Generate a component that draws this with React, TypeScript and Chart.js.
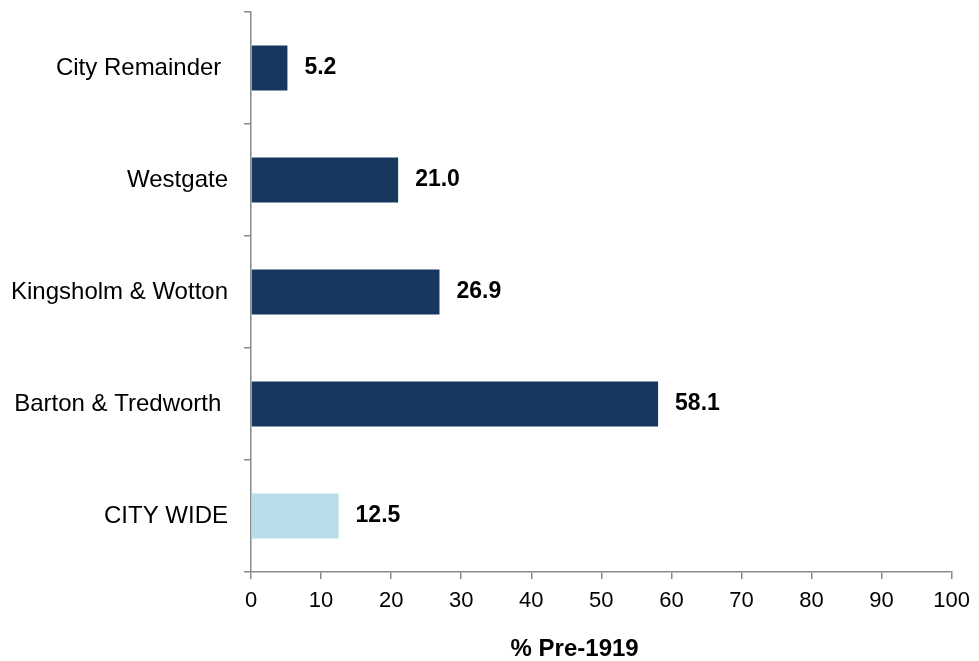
import React, { useEffect, useRef } from "react";
import { Chart, registerables } from "chart.js";

Chart.register(...registerables);

const categories = ["City Remainder ", "Westgate", "Kingsholm & Wotton", "Barton & Tredworth ", "CITY WIDE"];
const values = [5.2, 21.0, 26.9, 58.1, 12.5];
const barColors = ["#17375E", "#17375E", "#17375E", "#17375E", "#B7DEE8"];
const xTitle = "% Pre-1919        ";
const xMin = 0;
const xMax = 100;
const xStep = 10;

const FONT = "'Liberation Sans', Arial, sans-serif";
const AXIS = "#8A8A8A";

const valueLabels = {
  id: "valueLabels",
  afterDatasetsDraw(chart: any) {
    const ctx = chart.ctx;
    const meta = chart.getDatasetMeta(0);
    ctx.save();
    ctx.font = `bold 23px ${FONT}`;
    ctx.fillStyle = "#000";
    ctx.textAlign = "left";
    ctx.textBaseline = "middle";
    meta.data.forEach((bar: any, i: number) => {
      ctx.fillText(values[i].toFixed(1), bar.x + 17, bar.y);
    });
    ctx.restore();
  },
};

export default function App() {
  const ref = useRef<HTMLCanvasElement>(null);
  useEffect(() => {
    const chart = new Chart(ref.current!, {
      type: "bar",
      data: {
        labels: categories,
        datasets: [
          {
            data: values,
            backgroundColor: barColors,
            barPercentage: 0.4,
            categoryPercentage: 1,
          },
        ],
      },
      options: {
        indexAxis: "y",
        animation: false,
        responsive: false,
        maintainAspectRatio: false,
        layout: { padding: { top: 12, right: 27, bottom: 0, left: 0 } },
        plugins: { legend: { display: false }, tooltip: { enabled: false } },
        scales: {
          y: {
            afterFit: (s: any) => {
              s.width = 251;
              s.paddingTop = 0;
              s.paddingBottom = 0;
            },
            grid: { drawOnChartArea: false, tickLength: 7, color: AXIS, lineWidth: 1.5, offset: true },
            border: { color: AXIS, width: 1.5 },
            ticks: { color: "#000", font: { family: FONT, size: 24 }, padding: 16 },
          },
          x: {
            min: xMin,
            max: xMax,
            afterFit: (s: any) => {
              s.height = 89;
            },
            grid: { drawOnChartArea: false, tickLength: 7, color: AXIS, lineWidth: 1.5 },
            border: { color: AXIS, width: 1.5 },
            ticks: { stepSize: xStep, color: "#000", font: { family: FONT, size: 22 }, padding: 9, maxRotation: 0 },
            title: {
              display: true,
              text: xTitle,
              color: "#000",
              font: { family: FONT, size: 24, weight: "bold", lineHeight: 1 },
              padding: { top: 0, bottom: 0 },
            },
          },
        },
      },
      plugins: [valueLabels],
    });
    return () => chart.destroy();
  }, []);
  return (
    <div style={{ position: "absolute", left: 0, top: 0, width: 979, height: 661 }}>
      <canvas ref={ref} width={979} height={661} style={{ display: "block" }} />
    </div>
  );
}
